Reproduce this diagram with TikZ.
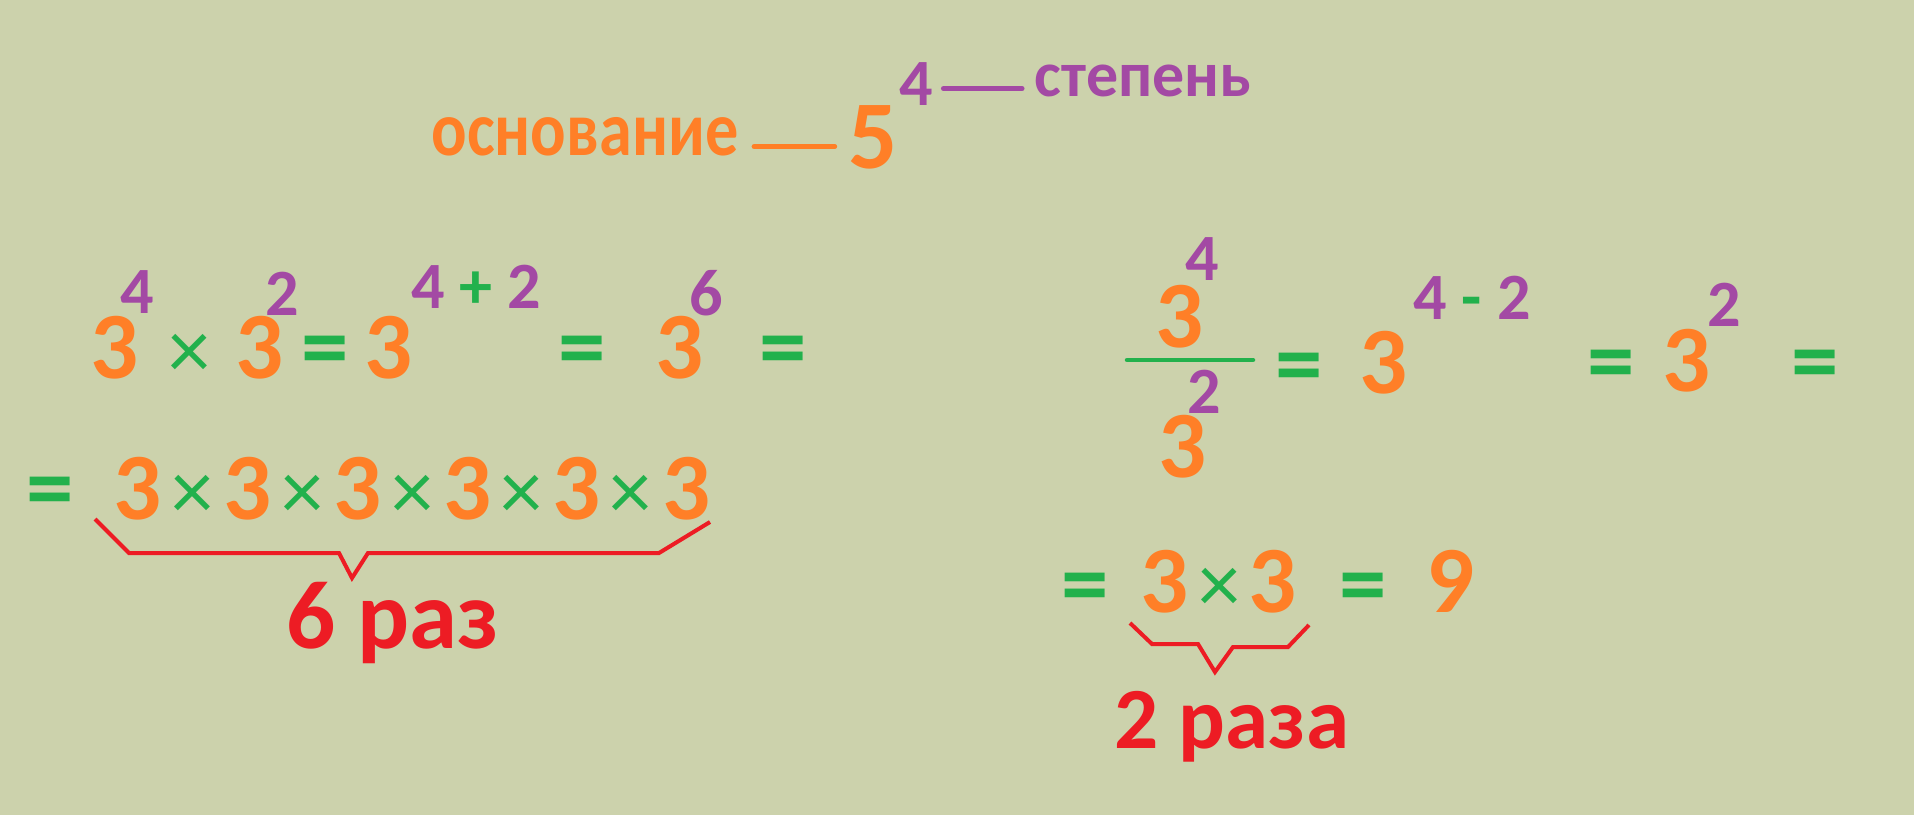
\documentclass[tikz,border=0pt]{standalone}
\usepackage{fontspec}
\setmainfont{Carlito}
\usepackage{graphicx}
\usetikzlibrary{positioning}
\definecolor{bgolive}{RGB}{204,210,172}
\definecolor{baseorange}{RGB}{255,127,39}
\definecolor{opgreen}{RGB}{34,177,76}
\definecolor{powpurple}{RGB}{163,73,164}
\definecolor{countred}{RGB}{237,28,36}
\newcommand{\fsz}[1]{\fontsize{#1}{#1}\selectfont\bfseries}
\tikzset{
  glyph/.style={inner sep=0pt,anchor=base},
  basenum/.style={glyph,text=baseorange,font=\fsz{27pt}},
  pownum/.style={glyph,text=powpurple,font=\fsz{18.8pt}},
  eqsign/.style={glyph,text=opgreen,font=\fsz{27pt}},
  timessign/.style={glyph,text=opgreen,font=\fontsize{24pt}{24pt}\selectfont},
  counttxt/.style={glyph,text=countred,font=\fsz{27.6pt}},
  bracepath/.style={draw=countred,line width=0.04cm,line join=miter},
  odash/.style={draw=baseorange,line width=0.05cm,line cap=round},
  pdash/.style={draw=powpurple,line width=0.05cm,line cap=round},
  fracbar/.style={draw=opgreen,line width=0.045cm,line cap=round}
}
\begin{document}
\begin{tikzpicture}[x=0.01cm,y=-0.01cm]
  \fill[bgolive] (0,0) rectangle (1914,815);

  % base and exponent
  \node[glyph,text=baseorange,font=\fsz{21.9pt}] (osn) at (585,155) {\scalebox{0.86}[1]{основание}};
  \node[basenum,font=\fsz{27.6pt}] (five) at (873,168) {5};
  \node[pownum] (four) at (916,105) {4};
  \node[glyph,text=powpurple,font=\fsz{18.2pt}] (stepen) at (1143,97) {степень};
  \draw[odash,shorten <=0.15cm,shorten >=0.13cm] (osn.mid east) -- (osn.mid east -| five.west);
  \draw[pdash,shorten <=0.1cm,shorten >=0.12cm] (four.east |- stepen.mid) -- (stepen.mid west);

  % product of powers
  \node[basenum] (a1) at (115,378) {3};
  \node[pownum] (a1e) at (137,313) {4};
  \node[timessign] (ax) at (190,378) {×};
  \node[basenum] (a2) at (260,378) {3};
  \node[pownum] (a2e) at (282,315) {2};
  \node[eqsign] (aeq1) at (325,378) {=};
  \node[basenum] (a3) at (389,378) {3};
  \node[pownum] (a3e) at (476,308) {4 {\color{opgreen}+} 2};
  \node[eqsign] (aeq2) at (582,378) {=};
  \node[basenum] (a4) at (680,378) {3};
  \node[pownum] (a4e) at (706,315) {6};
  \node[eqsign] (aeq3) at (783,378) {=};

  % six factors
  \node[eqsign] (beq) at (50,519) {=};
  \foreach \bx [count=\k] in {138,248,358,468,577,687}
    \node[basenum] (b\k) at (\bx,519) {3};
  \foreach \bx [count=\k] in {193,303,413,522,631}
    \node[timessign] (bx\k) at (\bx,519) {×};
  \draw[bracepath] (95,519) -- (129,553) -- (339,553) -- (352,578) -- (368,553) -- (659,553) -- (710,522);
  \node[counttxt] (six) at (393,648) {6 раз};

  % quotient of powers
  \node[basenum] (c1) at (1180,347) {3};
  \node[pownum] (c1e) at (1202,280) {4};
  \draw[fracbar] (1127,360) -- (1253,360);
  \node[basenum] (c2) at (1183,477) {3};
  \node[pownum] (c2e) at (1204,413) {2};
  \node[eqsign] (ceq1) at (1299,395) {=};
  \node[basenum] (c3) at (1384,393) {3};
  \node[pownum] (c3e) at (1472,319) {4 {\color{opgreen}-} 2};
  \node[eqsign] (ceq2) at (1611,392) {=};
  \node[basenum] (c4) at (1687,391) {3};
  \node[pownum] (c4e) at (1724,326) {2};
  \node[eqsign] (ceq3) at (1815,392) {=};

  % two factors
  \node[eqsign] (deq1) at (1085,615) {=};
  \node[basenum] (d1) at (1165,612) {3};
  \node[timessign] (dx) at (1220,612) {×};
  \node[basenum] (d2) at (1273,612) {3};
  \node[eqsign] (deq2) at (1363,615) {=};
  \node[basenum] (d3) at (1451,612) {9};
  \draw[bracepath] (1130,623) -- (1152,644) -- (1198,644) -- (1215,672) -- (1233,647) -- (1288,647) -- (1309,625);
  \node[counttxt,font=\fsz{24.8pt}] (two) at (1232,748) {2 раза};
\end{tikzpicture}
\end{document}
